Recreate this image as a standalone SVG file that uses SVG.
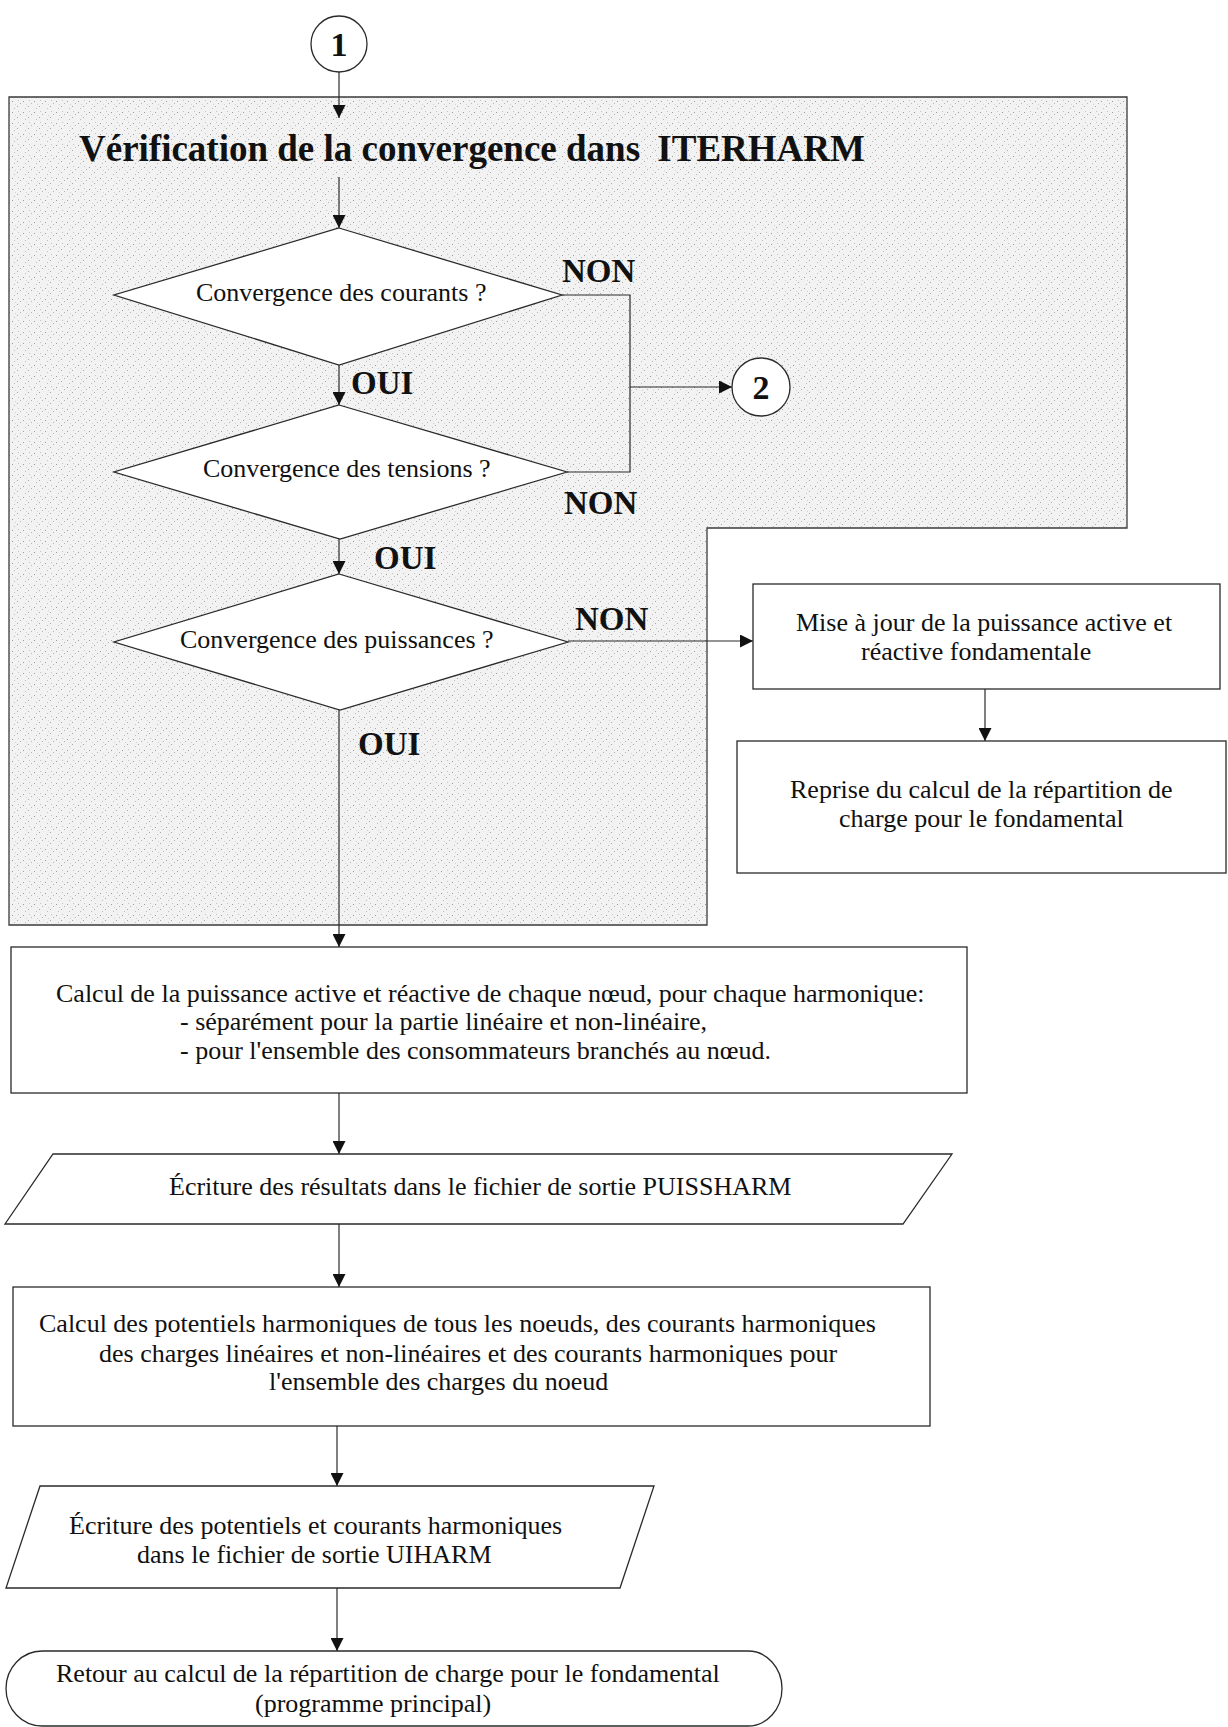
<svg xmlns="http://www.w3.org/2000/svg" width="1228" height="1727" viewBox="0 0 1228 1727">
<style>
.shape{fill:#fff;stroke:#2a2a2a;stroke-width:1.3}
.ln{fill:none;stroke:#2a2a2a;stroke-width:1.2}
.t{font-family:"Liberation Serif","Times New Roman",serif;font-size:26px;fill:#111}
.b{font-weight:bold}
.lab{font-family:"Liberation Serif","Times New Roman",serif;font-size:33px;font-weight:bold;fill:#111}
</style>
<defs>
<pattern id="stip" width="11" height="11" patternUnits="userSpaceOnUse">
<rect width="11" height="11" fill="#f2f2f2"/>
<rect x="1" y="2" width="1" height="1" fill="#9c9c9c"/>
<rect x="6" y="7" width="1" height="1" fill="#a8a8a8"/>
<rect x="7" y="1" width="1" height="1" fill="#c4c4c4"/>
<rect x="3" y="9" width="1" height="1" fill="#bdbdbd"/>
<rect x="9" y="4" width="1" height="1" fill="#b5b5b5"/>
<rect x="4" y="5" width="1" height="1" fill="#d2d2d2"/>
</pattern>
<marker id="arr" viewBox="0 0 12 12" refX="12" refY="6" markerWidth="13" markerHeight="13" markerUnits="userSpaceOnUse" orient="auto">
<path d="M0,0 L12,6 L0,12 Z" fill="#111"/>
</marker>
</defs>

<g id="zone-iterharm">
<polygon points="9,97 1127,97 1127,528 707,528 707,925 9,925" fill="url(#stip)" stroke="#3a3a3a" stroke-width="1.3"/>
<text class="t b" x="79" y="161" style="font-size:37px">Vérification de la convergence dans <tspan dx="8">ITERHARM</tspan></text>
</g>

<g id="connectors">
<line class="ln" x1="339" y1="72" x2="339" y2="118" marker-end="url(#arr)"/>
<line class="ln" x1="339" y1="177" x2="339" y2="228" marker-end="url(#arr)"/>
<line class="ln" x1="339" y1="365" x2="339" y2="405" marker-end="url(#arr)"/>
<line class="ln" x1="339" y1="539" x2="339" y2="574" marker-end="url(#arr)"/>
<line class="ln" x1="339" y1="710" x2="339" y2="947" marker-end="url(#arr)"/>
<polyline class="ln" points="562,295 630,295 630,472 567,472"/>
<line class="ln" x1="630" y1="387" x2="732" y2="387" marker-end="url(#arr)"/>
<line class="ln" x1="568" y1="641" x2="753" y2="641" marker-end="url(#arr)"/>
<line class="ln" x1="985" y1="689" x2="985" y2="741" marker-end="url(#arr)"/>
<line class="ln" x1="339" y1="1093" x2="339" y2="1154" marker-end="url(#arr)"/>
<line class="ln" x1="339" y1="1224" x2="339" y2="1287" marker-end="url(#arr)"/>
<line class="ln" x1="337" y1="1426" x2="337" y2="1486" marker-end="url(#arr)"/>
<line class="ln" x1="337" y1="1588" x2="337" y2="1651" marker-end="url(#arr)"/>
<text class="lab" x="562" y="282">NON</text>
<text class="lab" x="351" y="394">OUI</text>
<text class="lab" x="564" y="514">NON</text>
<text class="lab" x="374" y="569">OUI</text>
<text class="lab" x="575" y="630">NON</text>
<text class="lab" x="358" y="755">OUI</text>
</g>

<g id="start-1">
<circle class="shape" cx="339" cy="44" r="28"/>
<text class="lab" x="339" y="56" text-anchor="middle" style="font-size:34px">1</text>
</g>

<g id="goto-2">
<circle class="shape" cx="761" cy="387" r="29"/>
<text class="lab" x="761" y="399" text-anchor="middle" style="font-size:34px">2</text>
</g>

<g id="d-courants">
<polygon class="shape" points="339,228 562,295 339,365 114,295"/>
<text class="t" x="196" y="301">Convergence des courants ?</text>
</g>

<g id="d-tensions">
<polygon class="shape" points="339,405 567,472 340,539 114,472"/>
<text class="t" x="203" y="477">Convergence des tensions ?</text>
</g>

<g id="d-puissances">
<polygon class="shape" points="339,574 568,642 340,710 114,642"/>
<text class="t" x="180" y="648">Convergence des puissances ?</text>
</g>

<g id="b-miseajour">
<rect class="shape" x="753" y="584" width="467" height="105"/>
<text class="t" x="796" y="631">Mise à jour de la puissance active et</text>
<text class="t" x="861" y="660">réactive fondamentale</text>
</g>

<g id="b-reprise">
<rect class="shape" x="737" y="741" width="489" height="132"/>
<text class="t" x="790" y="798">Reprise du calcul de la répartition de</text>
<text class="t" x="839" y="827">charge pour le fondamental</text>
</g>

<g id="b-calcul-puissance">
<rect class="shape" x="11" y="947" width="956" height="146"/>
<text class="t" x="56" y="1002">Calcul de la puissance active et réactive de chaque nœud, pour chaque harmonique:</text>
<text class="t" x="180" y="1030">- séparément pour la partie linéaire et non-linéaire,</text>
<text class="t" x="180" y="1059">- pour l'ensemble des consommateurs branchés au nœud.</text>
</g>

<g id="io-puissharm">
<polygon class="shape" points="53,1154 952,1154 903,1224 5,1224"/>
<text class="t" x="169" y="1195">Écriture des résultats dans le fichier de sortie PUISSHARM</text>
</g>

<g id="b-calcul-potentiels">
<rect class="shape" x="13" y="1287" width="917" height="139"/>
<text class="t" x="39" y="1332">Calcul des potentiels harmoniques de tous les noeuds, des courants harmoniques</text>
<text class="t" x="99" y="1362">des charges linéaires et non-linéaires et des courants harmoniques pour</text>
<text class="t" x="269" y="1390">l'ensemble des charges du noeud</text>
</g>

<g id="io-uiharm">
<polygon class="shape" points="40,1486 654,1486 620,1588 6,1588"/>
<text class="t" x="69" y="1534">Écriture des potentiels et courants harmoniques</text>
<text class="t" x="137" y="1563">dans le fichier de sortie UIHARM</text>
</g>

<g id="end-retour">
<path class="shape" d="M42,1651 H748 A34,37.5 0 0 1 748,1726 H42 A36,37.5 0 0 1 42,1651 Z"/>
<text class="t" x="56" y="1682">Retour au calcul de la répartition de charge pour le fondamental</text>
<text class="t" x="255" y="1712">(programme principal)</text>
</g>
</svg>
